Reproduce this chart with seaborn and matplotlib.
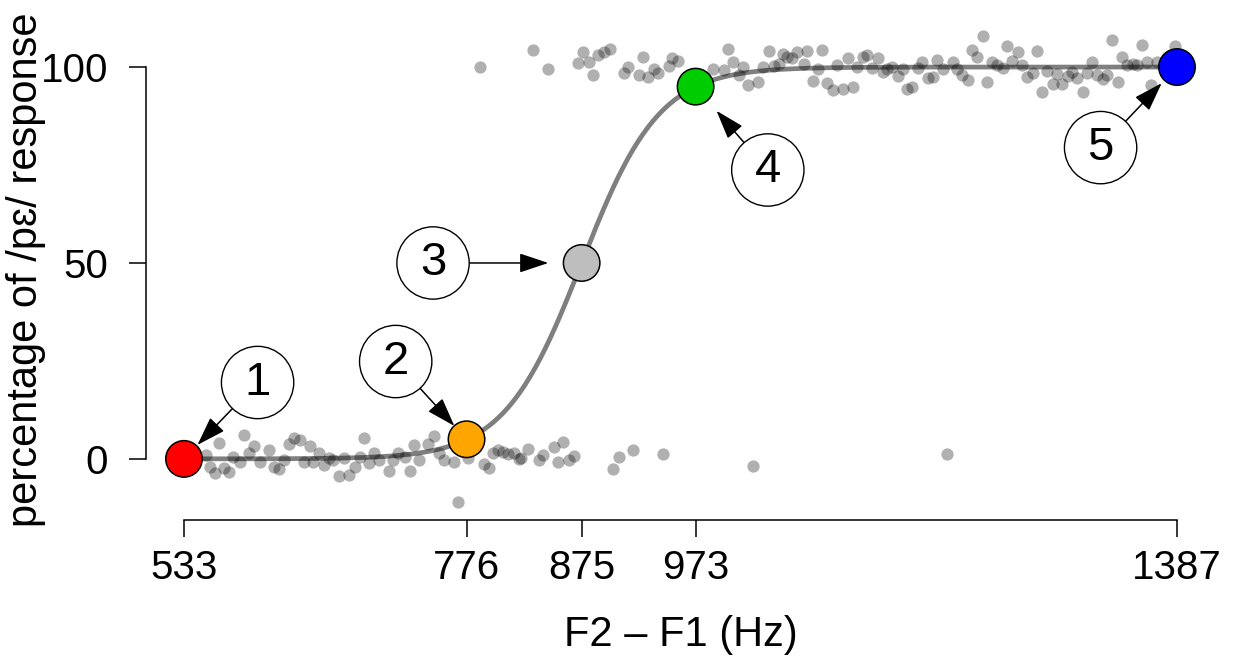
import numpy as np
import pandas as pd
import matplotlib
matplotlib.use("Agg")
import matplotlib.pyplot as plt
import seaborn as sns

# ---------------- data ----------------
# individual responses (jittered), lower band
low_x = [563, 585, 593, 589, 606, 575, 581, 598, 552, 555, 560, 567, 572, 610, 615, 619,
         623, 628, 633, 641, 649, 636, 644, 653, 658, 661, 671, 666, 675, 680, 684, 688,
         692, 696, 701, 709, 713, 717, 723, 731, 735, 727, 743, 748, 752, 757, 765, 777,
         769, 791, 795, 799, 803, 807, 812, 817, 821, 823, 829, 838, 842, 851, 859, 855,
         864, 868, 902, 907, 919, 945, 1022, 1189]
low_y = [4.0, 6.1, 3.3, 1.5, 2.3, 0.4, -0.7, -0.9, 1.0, -2.0, -3.6, -2.4, -3.4, -2.0, -2.6, -0.4,
         3.8, 5.3, 4.7, 3.3, 1.6, -0.7, -0.7, -1.5, 0.2, -0.4, 0.2, -4.3, -4.1, -2.0, 0.4, 5.3,
         -1.1, 1.5, -0.4, -3.2, -0.3, 1.5, 0.6, 3.6, -0.4, -3.2, 3.8, 5.9, 1.5, -0.4, -0.9, 0.2,
         -10.9, -1.3, -2.2, 1.5, 2.3, 1.7, 1.2, 1.5, 0.0, 0.3, 2.6, -0.3, 1.0, 3.1, 4.4, -0.8,
         -0.3, 0.8, -2.6, 0.6, 2.3, 1.3, -1.7, 1.2]
# individual responses (jittered), upper band
high_x = [788, 833, 846, 872, 876, 881, 885, 889, 894, 899, 911, 915, 924, 928, 932, 937,
          941, 950, 953, 958, 988, 997, 1001, 1005, 1010, 1014, 1018, 1027, 1031, 1036, 1040,
          1045, 1048, 1052, 1056, 1060, 1066, 1069, 1074, 1078, 1082, 1086, 1091, 1095, 1100,
          1104, 1108, 1112, 1117, 1120, 1125, 1130, 1134, 1138, 1142, 1147, 1151, 1155, 1159,
          1164, 1168, 1173, 1177, 1181, 1186, 1194, 1198, 1202, 1207, 1211, 1215, 1220, 1224,
          1228, 1232, 1237, 1241, 1245, 1250, 1254, 1258, 1263, 1267, 1271, 1275, 1280, 1284,
          1288, 1293, 1297, 1301, 1306, 1310, 1314, 1318, 1323, 1327, 1331, 1336, 1340, 1344,
          1349, 1353, 1357, 1361, 1365, 1370, 1385]
high_y = [100.0, 104.3, 99.6, 101.1, 103.9, 101.3, 97.9, 103.0, 103.9, 104.7, 98.6, 99.9, 97.9,
          102.6, 97.5, 99.4, 98.5, 100.3, 102.2, 101.5, 99.6, 99.2, 104.6, 101.3, 97.9, 99.9,
          95.4, 96.2, 99.9, 104.0, 100.3, 100.9, 103.3, 102.6, 102.2, 103.9, 100.9, 104.0, 96.4,
          99.6, 104.3, 96.0, 94.1, 100.5, 94.5, 102.4, 94.9, 100.0, 102.6, 103.2, 99.8, 102.4,
          98.8, 99.4, 100.0, 97.7, 99.6, 94.4, 94.9, 99.8, 101.3, 97.1, 97.5, 101.7, 99.5, 101.3,
          99.6, 97.9, 96.6, 104.3, 102.6, 107.9, 96.1, 101.2, 100.5, 99.8, 105.4, 101.5, 103.9,
          100.5, 97.5, 98.6, 104.1, 93.7, 99.0, 95.6, 98.1, 95.6, 97.7, 98.8, 97.1, 93.7, 98.5,
          101.3, 97.9, 96.9, 97.9, 107.0, 96.1, 102.6, 100.5, 100.9, 100.5, 105.7, 101.2, 95.4,
          101.3, 105.5]

# highlighted stimuli
stim_x = [533, 776, 875, 973, 1387]
stim_y = [0, 5, 50, 95, 100]
stim_labels = ["1", "2", "3", "4", "5"]
stim_colors = ["#FF0000", "#FFA500", "#BEBEBE", "#00CD00", "#0000FF"]

# fitted logistic curve parameters
curve_mid = 875
curve_slope = 0.0299

xtick_labels = ["533", "776", "875", "973", "1387"]
yticks = [0, 50, 100]

# ---------------- plotting ----------------
sns.set_theme(style="white")
plt.rcParams["font.family"] = ["Liberation Sans", "DejaVu Sans"]
plt.rcParams["text.color"] = "black"

fig = plt.figure(figsize=(12.35, 6.59), dpi=100)
ax = fig.add_axes([0.1179, 0.2109, 0.8662, 0.7587])

resp = pd.DataFrame({"x": low_x + high_x, "y": low_y + high_y})
sns.scatterplot(data=resp, x="x", y="y", ax=ax, color="black", alpha=0.31,
                s=78, linewidth=0, zorder=2)

cx = np.linspace(stim_x[0], stim_x[-1], 600)
curve = pd.DataFrame({"x": cx, "y": 100 / (1 + np.exp(-curve_slope * (cx - curve_mid)))})
sns.lineplot(data=curve, x="x", y="y", ax=ax, color="black", alpha=0.5, lw=3.4, zorder=3)

stim = pd.DataFrame({"x": stim_x, "y": stim_y, "lab": stim_labels})
sns.scatterplot(data=stim, x="x", y="y", hue="lab", palette=stim_colors, ax=ax,
                s=690, edgecolor="black", linewidth=1.1, legend=False, zorder=4)

# numbered callouts (offsets in points relative to each stimulus)
offsets = [(53, 55), (-51, 56), (-107, 0), (52, -60), (-55, -58)]
shrinks = [14, 13, 24, 23, 16]
for xv, yv, lab, off, shr in zip(stim_x, stim_y, stim_labels, offsets, shrinks):
    ax.annotate(lab, xy=(xv, yv), xytext=off, textcoords="offset points",
                ha="center", va="center", fontsize=34, color="black", zorder=6,
                bbox=dict(boxstyle="circle,pad=0.30", fc="white", ec="black", lw=1.0),
                arrowprops=dict(arrowstyle="-|>,head_length=0.9,head_width=0.3",
                                color="black", lw=1.1, shrinkA=0, shrinkB=shr,
                                mutation_scale=20))

ax.set_xlim(500, 1420)
ax.set_ylim(-15.6, 112)
ax.set_xticks(stim_x)
ax.set_xticklabels(xtick_labels)
ax.set_yticks(yticks)
ax.set_yticklabels([str(v) for v in yticks])
for sp in ["top", "right"]:
    ax.spines[sp].set_visible(False)
ax.spines["left"].set_bounds(0, 100)
ax.spines["bottom"].set_bounds(533, 1387)
for sp in ["left", "bottom"]:
    ax.spines[sp].set_color("black")
    ax.spines[sp].set_linewidth(1.1)
ax.tick_params(axis="both", which="major", direction="out", length=12, width=1.1,
               color="black", labelsize=29, labelcolor="black", left=True, bottom=True)
ax.tick_params(axis="y", pad=15)
ax.tick_params(axis="x", pad=9)
ax.set_xlabel("F2 \u2013 F1 (Hz)", fontsize=30, color="black", labelpad=20)
ax.set_ylabel("percentage of /p\u025b/ response", fontsize=30, color="black")
ax.yaxis.set_label_coords(-0.093, 0.5)
ax.grid(False)

fig.savefig("out.png", dpi=100)
